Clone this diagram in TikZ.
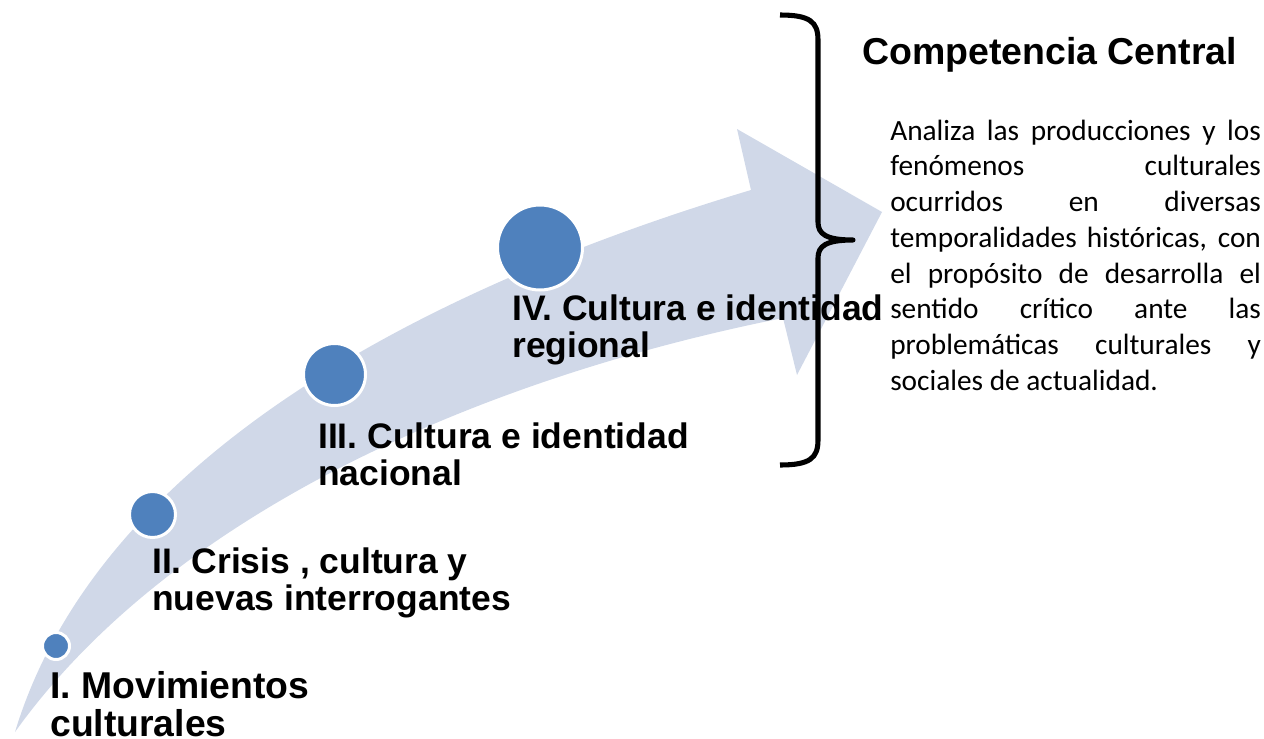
\documentclass[tikz,border=0pt]{standalone}
\usepackage{fontspec}
\setmainfont{Liberation Sans}
\newfontfamily\bodyfont{Carlito}
\definecolor{band}{RGB}{208,216,232}
\definecolor{dot}{RGB}{79,129,189}
\begin{document}
\begin{tikzpicture}[x=0.75pt,y=-0.75pt,
  dotnode/.style={circle, fill=dot, draw=white, line width=2.25pt, inner sep=0pt},
  stage/.style={anchor=north west, inner sep=0pt, align=left, font=\fontsize{26.6pt}{27.75pt}\selectfont\bfseries},
  bracestyle/.style={line width=3.8pt, line join=round}
  ]
\useasboundingbox (0,0) rectangle (1264,739);
% curved arrow
\fill[band] (15,732) .. controls (95,468) and (401,295) .. (751,190) -- (737,129) -- (882,212) -- (797,375) -- (783,318) .. controls (463,382) and (165,522) .. (15,732) -- cycle;
% circles
\node[dotnode, minimum size=20.25pt] (c1) at (56,646) {};
\node[dotnode, minimum size=34.5pt] (c2) at (152.5,514.5) {};
\node[dotnode, minimum size=46.5pt] (c3) at (334.5,374.5) {};
\node[dotnode, minimum size=63.75pt] (c4) at (540,247.5) {};
% labels
\node[stage, font=\fontsize{28pt}{28.5pt}\selectfont\bfseries] (l1) at (50,671) {I. Movimientos\\culturales};
\node[stage] (l2) at (152,547.5) {II. Crisis , cultura y\\nuevas interrogantes};
\node[stage] (l3) at (318,422.5) {III. Cultura e identidad\\nacional};
\node[stage] (l4) at (512,294.5) {IV. Cultura e identidad\\regional};
% right side
\node[anchor=north west, inner sep=0pt, font=\fontsize{28.1pt}{30pt}\selectfont\bfseries] (title) at (862,37.5) {Competencia Central};
\node[anchor=north west, inner sep=0pt, text width=278pt, align=justify, font=\bodyfont\fontsize{22pt}{26.8pt}\selectfont] (body) at (890,119.5) {\tolerance=10000 \hbadness=10000 Analiza las producciones y los\linebreak fenómenos culturales\linebreak ocurridos en diversas\linebreak temporalidades históricas, con\linebreak el propósito de desarrolla el\linebreak sentido crítico ante las\linebreak problemáticas culturales y\linebreak sociales de actualidad.};
% brace
\coordinate (bt) at (780,15);
\coordinate (bm) at (853,240);
\coordinate (bb) at (780,465);
\draw[bracestyle] (bt) .. controls (810,15) and (818,22) .. (818,40) -- (818,222) .. controls (818,234) and (826,240) .. (bm) .. controls (826,240) and (818,246) .. (818,258) -- (818,440) .. controls (818,458) and (810,465) .. (bb);
\end{tikzpicture}
\end{document}
